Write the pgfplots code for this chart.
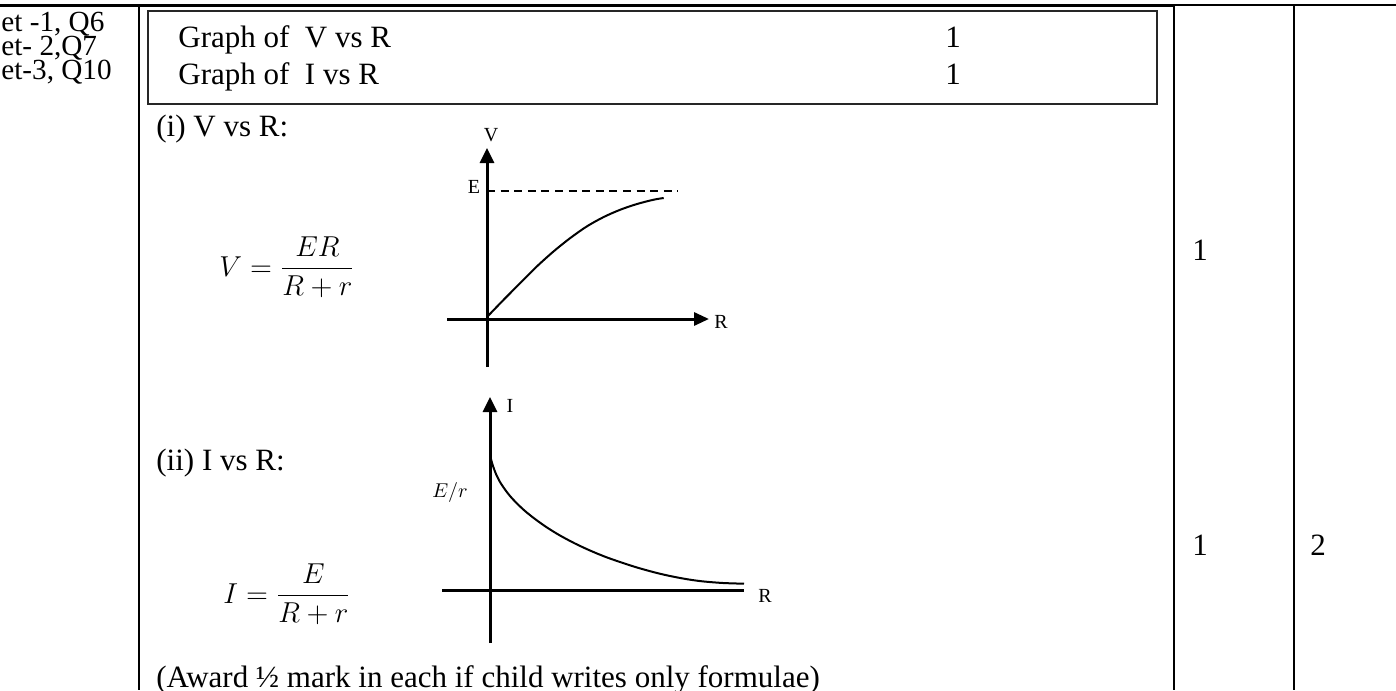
\documentclass[border=0pt]{standalone}
\usepackage{fontspec}
\setmainfont{Liberation Serif}
\usepackage{pgfplots}
\pgfplotsset{compat=1.18}
\usetikzlibrary{arrows.meta}

\begin{document}
\begin{tikzpicture}[
  txt/.style={font=\fontsize{15.5}{18}\selectfont, inner sep=0pt},
  lft/.style={font=\fontsize{14.6}{17}\selectfont, inner sep=0pt},
  lbl/.style={font=\fontsize{10}{12}\selectfont, inner sep=0pt},
]
\path[use as bounding box] (0pt,0pt) rectangle (698pt,-345pt);
\clip (0pt,0pt) rectangle (698pt,-345pt);

% table frame, in pixel units of the reference (y downwards)
\begin{scope}[x=0.5pt,y=-0.5pt]
  \draw[line width=1.5pt] (0,6) -- (1174,6);
  \draw[line width=1pt] (1174,5.5) -- (1396,5.5);
  \draw[line width=1.25pt] (139,6) -- (139,690);
  \draw[line width=1.25pt] (1174,6) -- (1174,690);
  \draw[line width=1.25pt] (1294,6) -- (1294,690);
  \draw[line width=1pt, black!85] (148,11) rectangle (1157,104);

  \node[lft, anchor=base west] at (1,32) {et -1, Q6};
  \node[lft, anchor=base west] at (1,56) {et- 2,Q7};
  \node[lft, anchor=base west] at (1,80) {et-3, Q10};

  \node[txt, anchor=base west] at (178,48) {Graph of\ \ V vs R};
  \node[txt, anchor=base west] at (178,85) {Graph of\ \ I vs R};
  \node[txt, anchor=base west] at (945,48) {1};
  \node[txt, anchor=base west] at (945,85) {1};

  \node[txt, anchor=base west] at (156,136) {(i) V vs R:};
  \node[txt, anchor=base west] at (219,276) {$\displaystyle V=\frac{ER}{R+r}$};
  \node[txt, anchor=base west] at (156,470) {(ii) I vs R:};
  \node[txt, anchor=base west] at (223,603) {$\displaystyle I=\frac{E}{R+r}$};
  \node[txt, anchor=base west] at (156,687) {(Award ½ mark in each if child writes only formulae)};

  \node[txt, anchor=base west] at (1192,260) {1};
  \node[txt, anchor=base west] at (1192,555) {1};
  \node[txt, anchor=base west] at (1310,555) {2};
\end{scope}

% V vs R
\begin{axis}[
  at={(243.5pt,-159.5pt)}, anchor=origin,
  x=0.5pt, y=0.5pt,
  xmin=-40, xmax=222, ymin=-48, ymax=171,
  axis lines=middle, ticks=none, enlargelimits=false, clip=false,
  axis line style={line width=1.5pt},
  x axis line style={-{Triangle[length=7.5pt,width=6.5pt]}},
  y axis line style={-{Triangle[length=7.5pt,width=7pt]}},
]
  \addplot[black, line width=0.9pt, dash pattern=on 4pt off 2.8pt] coordinates {(0,128) (191,128)};
  \addplot[black, line width=1pt, smooth] coordinates {(0,2) (16.7,19.3) (33.3,36) (50,52.7) (66.7,67.7) (83.3,81) (100,92.7) (116.7,102) (133.3,109.3) (150,115) (166.7,119.3) (176.7,121)};
  \node[lbl] at (axis cs:4,184) {V};
  \node[lbl] at (axis cs:-13,132) {E};
  \node[lbl] at (axis cs:234,-3) {R};
\end{axis}

% I vs R
\begin{axis}[
  at={(245pt,-295pt)}, anchor=origin,
  x=0.5pt, y=0.5pt,
  xmin=-48, xmax=254, ymin=-53, ymax=193,
  axis lines=middle, ticks=none, enlargelimits=false, clip=false,
  axis line style={line width=1.5pt},
  x axis line style={-},
  y axis line style={-{Triangle[length=7.5pt,width=7pt]}},
]
  \addplot[black, line width=1pt, smooth] coordinates {(0,138) (1,131) (3,124) (6,116) (10,108) (15,100.5) (20,94) (27,86.5) (35,79) (45,71) (57,62.5) (70,54.5) (85,46.5) (100,39.5) (115,33.3) (130,28) (147,22.5) (165,17.5) (180,14) (197,10.8) (213,8.6) (233,7) (254,6.3)};
  \node[lbl] at (axis cs:20,184) {I};
  \node[lbl] at (axis cs:275,-6) {R};
  \node[lbl] at (axis cs:-40,98) {$E/r$};
\end{axis}
\end{tikzpicture}
\end{document}
